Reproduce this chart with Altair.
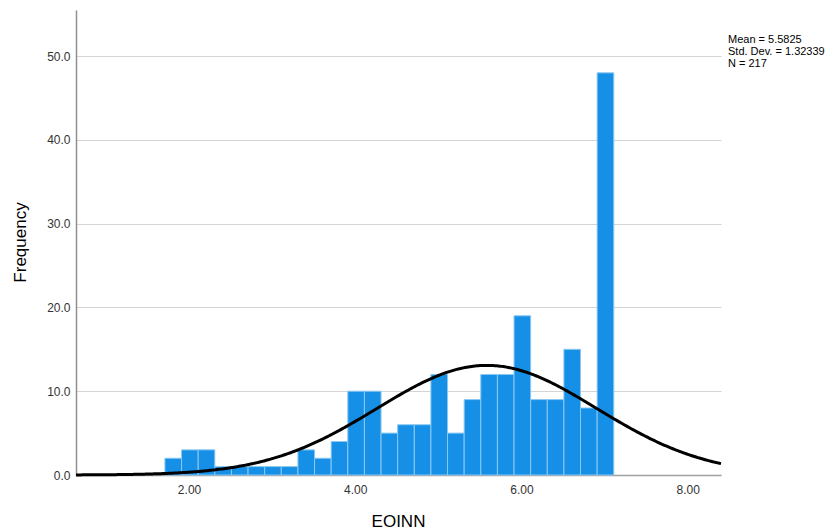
import altair as alt
import pandas as pd

# Histogram counts (bin width 0.2, first bin starts at 1.71)
counts = [2, 3, 3, 1, 1, 1, 1, 1, 3, 2, 4, 10, 10, 5, 6, 6, 12, 5, 9, 12, 12, 19, 9, 9, 15, 8, 48]
bin_start = 1.71
bin_width = 0.2

# Normal-curve parameters (from the legend)
mean = 5.5825
sd = 1.32339
n = 217

stats_lines = ["Mean = 5.5825", "Std. Dev. = 1.32339", "N = 217"]
x_ticks = [2, 4, 6, 8]
y_ticks = [0, 10, 20, 30, 40, 50]
x_domain = [0.64, 8.40]
y_domain = [0, 55.5]

FONT = "Liberation Sans"

bars_df = pd.DataFrame({"idx": list(range(len(counts))), "count": counts})
stats_df = pd.DataFrame({"label": ["\n".join(stats_lines)]})

xscale = alt.Scale(domain=x_domain, nice=False, zero=False)
yscale = alt.Scale(domain=y_domain, nice=False)

xaxis = alt.Axis(values=x_ticks, format=".2f", title="EOINN", grid=False, ticks=False,
                 labelPadding=9, labelFontSize=12, labelColor="#333333", labelFont=FONT,
                 titleFont=FONT, titleFontSize=17, titleFontWeight="normal", titleColor="#000000",
                 titleX=322, titleY=46, titleBaseline="middle", titleAlign="center",
                 domainColor="#a0a0a0", domainWidth=1.5)
yaxis = alt.Axis(values=y_ticks, format=".1f", title="Frequency", grid=True, ticks=False,
                 gridColor="#d4d4d4", gridWidth=1,
                 labelPadding=6, labelFontSize=12, labelColor="#333333", labelFont=FONT,
                 titleFont=FONT, titleFontSize=17, titleFontWeight="normal", titleColor="#000000",
                 titleX=-56, titleY=232, titleAngle=-90, titleBaseline="middle", titleAlign="center",
                 domainColor="#909090", domainWidth=1.5)

bars = alt.Chart(bars_df).transform_calculate(
    x0=f"{bin_start} + datum.idx * {bin_width}",
    x1=f"{bin_start} + (datum.idx + 1) * {bin_width}",
).mark_rect(color="#1590E6", stroke="#8cc8f2", strokeWidth=1).encode(
    x=alt.X("x0:Q", scale=xscale, axis=xaxis),
    x2="x1:Q",
    y=alt.Y("count:Q", scale=yscale, axis=yaxis),
    y2=alt.datum(0),
)

curve = alt.Chart(alt.sequence(start=x_domain[0], stop=x_domain[1] + 0.001, step=0.02, as_="x")).transform_calculate(
    y=f"{n} * {bin_width} * exp(-0.5 * pow((datum.x - {mean}) / {sd}, 2)) / ({sd} * sqrt(2 * PI))"
).mark_line(color="#000000", strokeWidth=3).encode(
    x=alt.X("x:Q", scale=xscale),
    y=alt.Y("y:Q", scale=yscale),
)

stats = alt.Chart(stats_df).mark_text(
    align="left", baseline="top", font=FONT, fontSize=11, color="#000000",
    lineBreak="\n", lineHeight=12,
).encode(
    x=alt.value(652),
    y=alt.value(24),
    text="label:N",
)

chart = alt.layer(bars, curve, stats).properties(
    width=645, height=465,
    autosize=alt.AutoSizeParams(type="none"),
    padding={"left": 68, "top": 2, "right": 109, "bottom": 55},
).configure(font=FONT).configure_view(stroke=None)

chart.save("out.html", embed_options={"renderer": "svg", "actions": False})
